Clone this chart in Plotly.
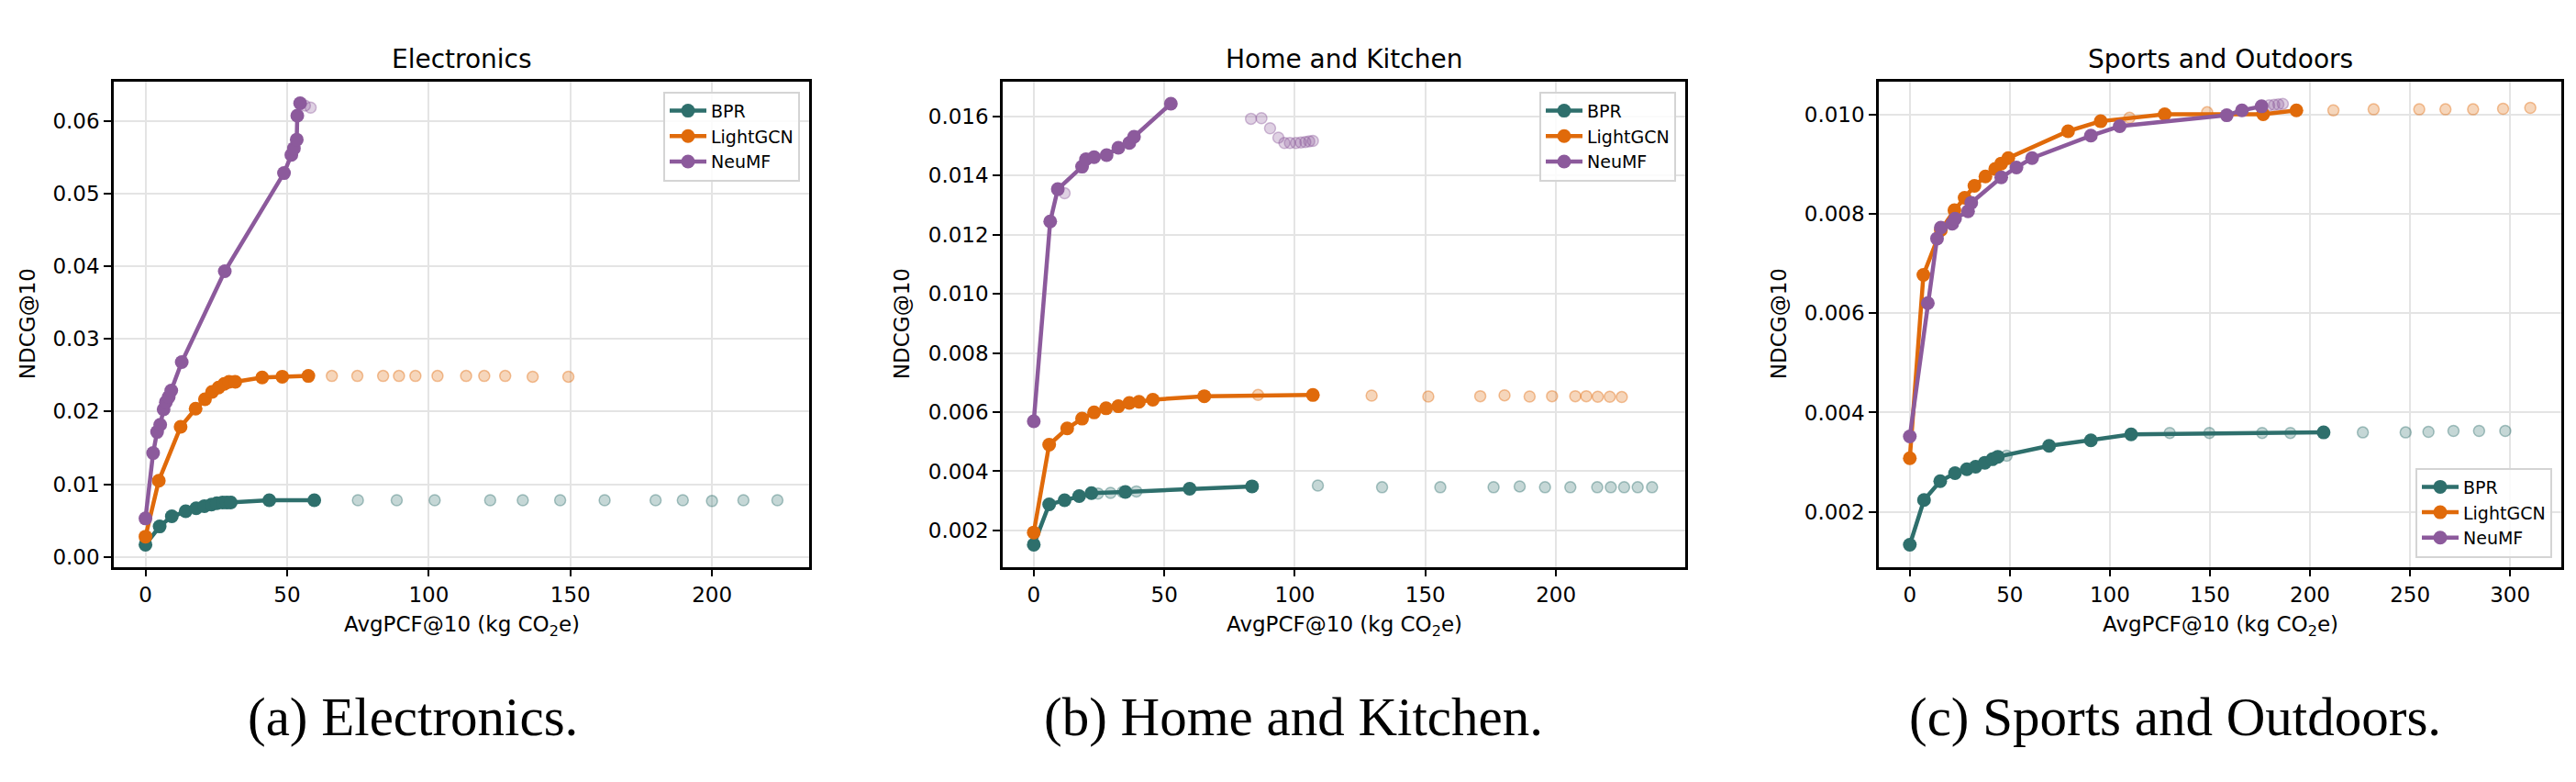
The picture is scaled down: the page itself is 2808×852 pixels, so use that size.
import plotly.graph_objects as go

# ---------------- data ----------------
models = ["BPR", "LightGCN", "NeuMF"]
panel_titles = ["Electronics", "Home and Kitchen", "Sports and Outdoors"]
captions = ["(a) Electronics.", "(b) Home and Kitchen.", "(c) Sports and Outdoors."]

# Electronics
e_bpr_x = [0, 5.0, 9.3, 14.2, 17.9, 20.8, 23.3, 25.2, 27.2, 28.7, 30.1, 43.7, 59.6]
e_bpr_y = [0.0017, 0.0042, 0.0056, 0.0063, 0.0067, 0.0070, 0.0072, 0.0074, 0.0075, 0.0075, 0.0075, 0.0078, 0.0078]
e_bpr_fx = [75.0, 88.7, 102.1, 121.7, 133.2, 146.4, 162.1, 180.1, 189.7, 200.0, 211.1, 223.1]
e_bpr_fy = [0.0078, 0.0078, 0.0078, 0.0078, 0.0078, 0.0078, 0.0078, 0.0078, 0.0078, 0.0077, 0.0078, 0.0078]
e_lgc_x = [0, 4.7, 12.4, 17.7, 21.0, 23.5, 25.8, 27.8, 29.5, 31.7, 41.2, 48.3, 57.5]
e_lgc_y = [0.0028, 0.0105, 0.0179, 0.0204, 0.0217, 0.0227, 0.0233, 0.0238, 0.0241, 0.0241, 0.0247, 0.0248, 0.0249]
e_lgc_fx = [65.8, 74.8, 83.9, 89.5, 95.3, 103.1, 113.2, 119.6, 127.0, 136.7, 149.3]
e_lgc_fy = [0.0249, 0.0249, 0.0249, 0.0249, 0.0249, 0.0249, 0.0249, 0.0249, 0.0249, 0.0248, 0.0248]
e_neu_x = [0, 2.7, 4.1, 5.2, 6.4, 7.2, 8.2, 9.1, 12.8, 28.0, 48.9, 51.5, 52.4, 53.4, 53.6, 54.6]
e_neu_y = [0.0053, 0.0143, 0.0172, 0.0182, 0.0203, 0.0213, 0.0220, 0.0229, 0.0268, 0.0393, 0.0528, 0.0553, 0.0562, 0.0574, 0.0607, 0.0624]
e_neu_fx = [56.3, 58.3]
e_neu_fy = [0.0621, 0.0618]

# Home and Kitchen
h_bpr_x = [0, 5.9, 11.8, 17.4, 22.1, 35.1, 59.7, 83.6]
h_bpr_y = [0.00152, 0.00288, 0.00302, 0.00316, 0.00326, 0.00330, 0.00341, 0.00349]
h_bpr_fx = [24.6, 29.4, 34.0, 39.3, 108.8, 133.4, 155.7, 176.1, 186.1, 195.8, 205.5, 215.8, 221.0, 226.1, 231.3, 236.8]
h_bpr_fy = [0.00325, 0.00327, 0.00330, 0.00332, 0.00352, 0.00346, 0.00346, 0.00346, 0.00349, 0.00346, 0.00346, 0.00346, 0.00346, 0.00346, 0.00346, 0.00346]
h_lgc_x = [0, 5.9, 12.8, 18.5, 23.1, 27.7, 32.4, 36.6, 40.3, 45.6, 65.3, 106.9]
h_lgc_y = [0.00193, 0.00490, 0.00545, 0.00578, 0.00599, 0.00613, 0.00620, 0.00631, 0.00635, 0.00642, 0.00654, 0.00658]
h_lgc_fx = [85.9, 129.4, 151.1, 171.0, 180.3, 189.9, 198.5, 207.4, 211.6, 216.0, 220.6, 225.2]
h_lgc_fy = [0.00658, 0.00656, 0.00653, 0.00654, 0.00657, 0.00653, 0.00654, 0.00654, 0.00654, 0.00652, 0.00652, 0.00651]
h_neu_x = [0, 6.3, 9.2, 18.5, 20.0, 23.1, 27.9, 32.4, 36.6, 38.4, 52.5]
h_neu_y = [0.00569, 0.01245, 0.01354, 0.01430, 0.01455, 0.01462, 0.01469, 0.01494, 0.01510, 0.01531, 0.01643]
h_neu_fx = [11.8, 83.2, 87.2, 90.5, 93.7, 96.0, 98.1, 100.4, 102.3, 104.0, 105.5, 106.9]
h_neu_fy = [0.0134, 0.01592, 0.01594, 0.01560, 0.01528, 0.01510, 0.01510, 0.01510, 0.01512, 0.01513, 0.01516, 0.01517]

# Sports and Outdoors
s_bpr_x = [0, 7.1, 15.2, 22.6, 28.5, 32.9, 37.5, 41.3, 44.0, 69.6, 90.5, 110.6, 206.8]
s_bpr_y = [0.00134, 0.00224, 0.00262, 0.00278, 0.00286, 0.00291, 0.00299, 0.00306, 0.00311, 0.00333, 0.00344, 0.00356, 0.00360]
s_bpr_fx = [48.4, 129.9, 149.7, 176.1, 190.2, 226.4, 247.8, 259.2, 271.7, 284.5, 297.6]
s_bpr_fy = [0.00313, 0.00359, 0.00359, 0.00359, 0.00359, 0.00360, 0.00360, 0.00361, 0.00363, 0.00363, 0.00363]
s_lgc_x = [0, 6.8, 15.5, 22.3, 27.4, 32.3, 37.8, 42.7, 45.7, 49.2, 79.1, 95.4, 127.4, 176.6, 193.2]
s_lgc_y = [0.00308, 0.00677, 0.00767, 0.00807, 0.00832, 0.00856, 0.00875, 0.00890, 0.00901, 0.00912, 0.00966, 0.00986, 0.01000, 0.01000, 0.01008]
s_lgc_fx = [109.8, 148.6, 211.7, 231.8, 254.6, 267.7, 281.5, 296.5, 310.1]
s_lgc_fy = [0.00993, 0.01004, 0.01008, 0.01010, 0.01010, 0.01010, 0.01010, 0.01011, 0.01013]
s_neu_x = [0, 9.0, 13.6, 15.5, 21.2, 22.6, 29.1, 30.7, 45.7, 53.3, 61.1, 90.5, 104.9, 158.4, 166.0, 175.8]
s_neu_y = [0.00352, 0.00620, 0.00750, 0.00772, 0.00780, 0.00790, 0.00805, 0.00822, 0.00873, 0.00893, 0.00912, 0.00957, 0.00976, 0.00998, 0.01008, 0.01016]
s_neu_fx = [179.6, 182.1, 184.2, 186.4]
s_neu_fy = [0.01018, 0.01019, 0.01020, 0.01021]

x_ticks = [[0, 50, 100, 150, 200], [0, 50, 100, 150, 200], [0, 50, 100, 150, 200, 250, 300]]
y_ticks = [[0.00, 0.01, 0.02, 0.03, 0.04, 0.05, 0.06],
           [0.002, 0.004, 0.006, 0.008, 0.010, 0.012, 0.014, 0.016],
           [0.002, 0.004, 0.006, 0.008, 0.010]]
y_formats = [".2f", ".3f", ".3f"]

panels = [
    [(e_bpr_x, e_bpr_y, e_bpr_fx, e_bpr_fy), (e_lgc_x, e_lgc_y, e_lgc_fx, e_lgc_fy), (e_neu_x, e_neu_y, e_neu_fx, e_neu_fy)],
    [(h_bpr_x, h_bpr_y, h_bpr_fx, h_bpr_fy), (h_lgc_x, h_lgc_y, h_lgc_fx, h_lgc_fy), (h_neu_x, h_neu_y, h_neu_fx, h_neu_fy)],
    [(s_bpr_x, s_bpr_y, s_bpr_fx, s_bpr_fy), (s_lgc_x, s_lgc_y, s_lgc_fx, s_lgc_fy), (s_neu_x, s_neu_y, s_neu_fx, s_neu_fy)],
]

# ---------------- style / layout ----------------
W, H = 2808, 852
colors = ["#2E6F6C", "#E06A0A", "#8C5A9C"]
faded_fill = ["rgba(46,111,108,0.28)", "rgba(224,106,10,0.28)", "rgba(140,90,156,0.28)"]
faded_edge = ["rgba(46,111,108,0.40)", "rgba(224,106,10,0.40)", "rgba(140,90,156,0.40)"]

frames_px = [(124, 882), (1093, 1837), (2048, 2792)]
top_px, bot_px = 89, 619
x_ranges = [[-11.2, 234.3], [-11.9, 249.5], [-15.5, 325.6]]
y_ranges = [[-0.00135, 0.0654], [0.00077, 0.01718], [0.000896, 0.01066]]
ylabel_px = [30, 983, 1939]
caption_px = [450, 1410, 2371]
legend_pos = [(872, 100, "top"), (1827, 100, "top"), (2782, 609, "bottom")]

FONT = "DejaVu Sans"
fig = go.Figure()
layout = dict(
    width=W, height=H, margin=dict(l=0, r=0, t=0, b=0),
    paper_bgcolor="white", plot_bgcolor="white",
    font=dict(family=FONT, size=23, color="black"),
    showlegend=True,
)
annotations = []

for p in range(3):
    sfx = "" if p == 0 else str(p + 1)
    xa, ya = "x" + sfx, "y" + sfx
    leg = "legend" + sfx
    # faded points first
    for m in range(3):
        _, _, fx, fy = panels[p][m]
        fig.add_trace(go.Scatter(
            x=fx, y=fy, mode="markers", xaxis=xa, yaxis=ya, showlegend=False,
            marker=dict(size=12, color=faded_fill[m], line=dict(color=faded_edge[m], width=1.5)),
            hoverinfo="skip"))
    for m in range(3):
        sx, sy, _, _ = panels[p][m]
        fig.add_trace(go.Scatter(
            x=sx, y=sy, mode="lines+markers", name=models[m], xaxis=xa, yaxis=ya,
            legend=leg,
            line=dict(color=colors[m], width=4.5),
            marker=dict(size=15, color=colors[m])))

    l, r = frames_px[p]
    axis_common = dict(
        showline=True, linecolor="black", linewidth=2.5, mirror=True,
        ticks="outside", ticklen=8, tickwidth=2, tickcolor="black",
        showgrid=True, gridcolor="#e4e4e4", gridwidth=2, zeroline=False,
        tickfont=dict(family=FONT, size=23, color="black"),
    )
    layout["xaxis" + sfx] = dict(
        axis_common, domain=[l / W, r / W], range=x_ranges[p],
        tickvals=x_ticks[p], anchor=ya)
    layout["yaxis" + sfx] = dict(
        axis_common, domain=[1 - bot_px / H, 1 - top_px / H], range=y_ranges[p],
        tickvals=y_ticks[p], tickformat=y_formats[p], anchor=xa)

    lx, ly, anc = legend_pos[p]
    layout[leg] = dict(
        x=lx / W, y=1 - ly / H, xanchor="right", yanchor=anc,
        xref="paper", yref="paper",
        bgcolor="rgba(255,255,255,0.85)", bordercolor="#d4d4d4", borderwidth=2,
        font=dict(family=FONT, size=19, color="black"),
        tracegroupgap=0, itemwidth=40)

    cx = (l + r) / 2
    annotations.append(dict(text=panel_titles[p], x=cx / W, y=1 - 65 / H, xref="paper", yref="paper",
                            showarrow=False, xanchor="center", yanchor="middle",
                            font=dict(family=FONT, size=28, color="black")))
    annotations.append(dict(text="AvgPCF@10 (kg CO<sub>2</sub>e)", x=cx / W, y=1 - 684 / H,
                            xref="paper", yref="paper", showarrow=False,
                            xanchor="center", yanchor="middle",
                            font=dict(family=FONT, size=23, color="black")))
    annotations.append(dict(text="NDCG@10", x=ylabel_px[p] / W, y=1 - ((top_px + bot_px) / 2) / H,
                            xref="paper", yref="paper", showarrow=False, textangle=-90,
                            xanchor="center", yanchor="middle",
                            font=dict(family=FONT, size=23, color="black")))
    annotations.append(dict(text=captions[p], x=caption_px[p] / W, y=1 - 783 / H,
                            xref="paper", yref="paper", showarrow=False,
                            xanchor="center", yanchor="middle",
                            font=dict(family="Liberation Serif", size=59, color="black")))

layout["annotations"] = annotations
fig.update_layout(**layout)
fig.write_html("out.html")
